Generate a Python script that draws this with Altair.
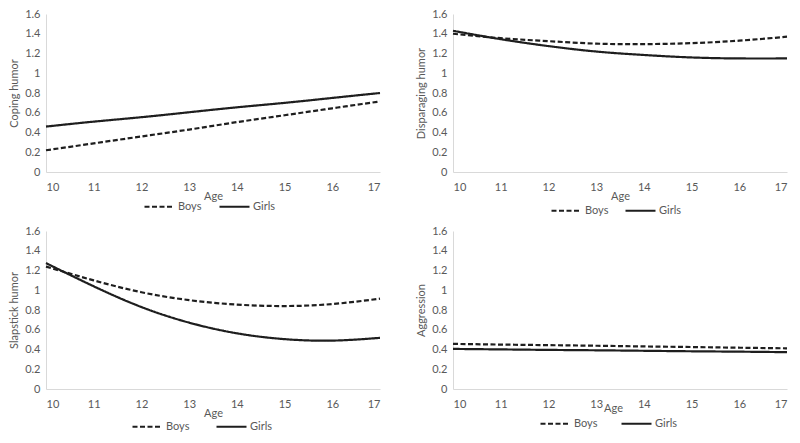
import pandas as pd
import altair as alt

ages = [10, 11, 12, 13, 14, 15, 16, 17]
groups = ["Boys", "Girls"]

coping_boys = [0.22, 0.29, 0.36, 0.43, 0.505, 0.575, 0.645, 0.715]
coping_girls = [0.46, 0.51, 0.555, 0.605, 0.655, 0.70, 0.75, 0.80]

disparaging_boys = [1.40, 1.355, 1.325, 1.30, 1.295, 1.305, 1.33, 1.37]
disparaging_girls = [1.43, 1.345, 1.275, 1.22, 1.185, 1.16, 1.15, 1.15]

slapstick_boys = [1.24, 1.10, 0.98, 0.90, 0.855, 0.84, 0.86, 0.915]
slapstick_girls = [1.275, 1.04, 0.83, 0.672, 0.564, 0.505, 0.49, 0.518]

aggression_boys = [0.457, 0.45, 0.444, 0.438, 0.431, 0.425, 0.418, 0.412]
aggression_girls = [0.406, 0.401, 0.396, 0.392, 0.387, 0.382, 0.378, 0.373]

y_ticks = [0, 0.2, 0.4, 0.6, 0.8, 1, 1.2, 1.4, 1.6]

FONT = "Lato"
GREY = "#595959"
AXIS_LINE = "#d9d9d9"
INK = "#1e1e1e"
W, H = 334, 158


def make_panel(boys, girls, ytitle, legend_x, legend_dy, col_pad=12,
               title_pad=-2, title_x=None):
    """One Excel-style panel: dashed Boys line, solid Girls line"""
    data = pd.DataFrame({
        "age": ages * 2,
        "score": boys + girls,
        "group": [groups[0]] * len(ages) + [groups[1]] * len(ages),
    })

    x_axis = dict(values=ages, format="d", title="Age", titlePadding=title_pad,
                  labelPadding=9)
    if title_x is not None:
        x_axis["titleX"] = title_x

    chart = alt.Chart(data).mark_line(
        color=INK, strokeWidth=2.2, interpolate="natural"
    ).encode(
        x=alt.X("age:Q", scale=alt.Scale(domain=[10, 17], nice=False, zero=False),
                axis=alt.Axis(**x_axis)),
        y=alt.Y("score:Q", scale=alt.Scale(domain=[0, 1.6], nice=False),
                axis=alt.Axis(values=y_ticks, format=".1~f", title=ytitle,
                              labelPadding=6, titlePadding=5)),
        strokeDash=alt.StrokeDash(
            "group:N",
            scale=alt.Scale(domain=groups, range=[[5, 2.5], [1, 0]]),
            legend=alt.Legend(
                title=None, orient="none", direction="horizontal",
                legendX=legend_x, legendY=H + legend_dy,
                symbolType="stroke", symbolSize=900, symbolStrokeWidth=2.2,
                symbolStrokeColor=INK, labelColor=GREY, labelFontSize=11,
                labelFont=FONT, labelOffset=2, columnPadding=col_pad, padding=0,
            ),
        ),
    ).properties(width=W, height=H)

    return chart


p1 = make_panel(coping_boys, coping_girls, "Coping humor", 97, 18, col_pad=13)
p2 = make_panel(disparaging_boys, disparaging_girls, "Disparaging humor", 97, 22,
                col_pad=12)
p3 = make_panel(slapstick_boys, slapstick_girls, "Slapstick humor", 85, 21,
                col_pad=22)
p4 = make_panel(aggression_boys, aggression_girls, "Aggression", 86, 18,
                col_pad=19, title_pad=-7, title_x=160)

chart = alt.concat(
    p1, p2, p3, p4, columns=2, bounds="flush",
    spacing={"row": 59, "column": 73},
).resolve_scale(
    strokeDash="independent"
).resolve_legend(
    strokeDash="independent"
).properties(
    padding=0
).configure_view(
    stroke=None
).configure_axis(
    grid=False, ticks=False, domainColor=AXIS_LINE, domainWidth=1,
    labelColor=GREY, labelFont=FONT, labelFontSize=11,
    titleColor=GREY, titleFont=FONT, titleFontSize=11, titleFontWeight="normal",
)

chart.save("out.html", embed_options={"renderer": "svg", "actions": False})
